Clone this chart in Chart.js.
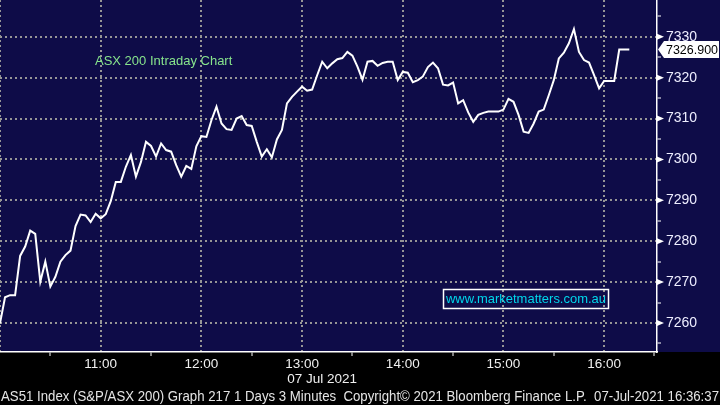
<!DOCTYPE html>
<html>
<head>
<meta charset="utf-8">
<script src="https://cdn.jsdelivr.net/npm/chart.js@4/dist/chart.umd.min.js"></script>
<style>
  html, body { margin: 0; padding: 0; background: #000; }
  #wrap { width: 720px; height: 405px; }
</style>
</head>
<body>
<div id="wrap"><canvas id="asxChart" width="720" height="405"></canvas></div>
<script>
// minutes after 10:00, 3 minute bars
const minutes = [
  0, 3, 6, 9, 12, 15, 18, 21, 24, 27, 30, 33, 36, 39, 42, 45, 48, 51, 54, 57,
  60, 63, 66, 69, 72, 75, 78, 81, 84, 87, 90, 93, 96, 99, 102, 105, 108, 111, 114, 117,
  120, 123, 126, 129, 132, 135, 138, 141, 144, 147, 150, 153, 156, 159, 162, 165, 168, 171, 174, 177,
  180, 183, 186, 189, 192, 195, 198, 201, 204, 207, 210, 213, 216, 219, 222, 225, 228, 231, 234, 237,
  240, 243, 246, 249, 252, 255, 258, 261, 264, 267, 270, 273, 276, 279, 282, 285, 288, 291, 294, 297,
  300, 303, 306, 309, 312, 315, 318, 321, 324, 327, 330, 333, 336, 339, 342, 345, 348, 351, 354, 357,
  360, 363, 366, 369, 372, 375
];
// AS51 index level
const closes = [
  7259.9, 7266.3, 7266.8, 7266.8, 7276.4, 7278.7, 7282.6, 7281.8, 7270.1, 7275.0,
  7268.9, 7271.3, 7275.0, 7276.6, 7277.7, 7283.7, 7286.5, 7286.3, 7284.7, 7286.7,
  7285.6, 7286.6, 7289.8, 7294.5, 7294.5, 7298.2, 7301.1, 7295.8, 7299.4, 7304.3,
  7303.3, 7300.7, 7303.9, 7302.3, 7301.9, 7298.6, 7295.8, 7298.4, 7297.7, 7303.2,
  7305.7, 7305.5, 7309.6, 7312.9, 7308.8, 7307.4, 7307.2, 7310.0, 7310.6, 7308.4,
  7308.2, 7304.3, 7300.7, 7302.5, 7300.5, 7304.9, 7307.2, 7313.7, 7315.3, 7316.6,
  7317.8, 7316.8, 7317.1, 7320.6, 7323.9, 7322.3, 7323.5, 7324.5, 7324.8, 7326.3,
  7325.4, 7322.7, 7319.5, 7323.9, 7324.1, 7322.9, 7323.6, 7323.9, 7323.9, 7319.4,
  7321.4, 7321.2, 7318.9, 7319.4, 7320.3, 7322.6, 7323.7, 7322.3, 7318.3, 7318.1,
  7318.8, 7313.7, 7314.5, 7311.5, 7309.2, 7310.9, 7311.4, 7311.7, 7311.7, 7311.7,
  7312.2, 7314.8, 7314.1, 7310.9, 7306.8, 7306.5, 7308.8, 7311.7, 7312.2, 7315.7,
  7319.4, 7324.7, 7326.1, 7328.4, 7331.9, 7326.3, 7324.3, 7323.7, 7320.6, 7317.4,
  7319.2, 7319.2, 7319.2, 7326.9, 7326.9, 7326.9
];
const hourTicks = [60, 120, 180, 240, 300, 360];
const hourLabels = ['11:00', '12:00', '13:00', '14:00', '15:00', '16:00'];
const lastPrice = 7326.9;
const chartTitle = 'ASX 200 Intraday Chart';
const dateLabel = '07 Jul 2021';
const siteLabel = 'www.marketmatters.com.au';
const footerText = 'AS51 Index (S&P/ASX 200) Graph 217 1 Days 3 Minutes  Copyright\u00A9 2021 Bloomberg Finance L.P.  07-Jul-2021 16:36:37';

const NAVY = 'rgb(14,12,72)';
const GRID = 'rgb(150,150,150)';
const FONT = '"Liberation Sans", Arial, sans-serif';

const decor = {
  id: 'decor',
  beforeDraw(chart) {
    const { ctx, chartArea } = chart;
    ctx.save();
    ctx.fillStyle = '#000';
    ctx.fillRect(0, 0, chart.width, chart.height);
    ctx.fillStyle = NAVY;
    ctx.fillRect(0, 0, chart.width, chartArea.bottom);
    ctx.restore();
  },
  afterDraw(chart) {
    const { ctx, chartArea, scales } = chart;
    const y = scales.y;
    ctx.save();
    // pointer ticks on the price axis
    ctx.fillStyle = '#fff';
    y.ticks.forEach(t => {
      if (t.value % 10 !== 0) return;
      const py = y.getPixelForValue(t.value);
      ctx.beginPath();
      ctx.moveTo(chartArea.right, py - 3);
      ctx.lineTo(chartArea.right + 7, py);
      ctx.lineTo(chartArea.right, py + 3);
      ctx.closePath();
      ctx.fill();
    });

    // last price tag
    const ly = y.getPixelForValue(lastPrice);
    const lx = chartArea.right + 1;
    ctx.beginPath();
    ctx.moveTo(lx, ly);
    ctx.lineTo(lx + 6, ly - 8.5);
    ctx.lineTo(719, ly - 8.5);
    ctx.lineTo(719, ly + 8.5);
    ctx.lineTo(lx + 6, ly + 8.5);
    ctx.closePath();
    ctx.fillStyle = '#fff';
    ctx.fill();
    ctx.fillStyle = '#000';
    ctx.font = '13.5px ' + FONT;
    ctx.textBaseline = 'middle';
    ctx.textAlign = 'left';
    ctx.fillText(lastPrice.toFixed(3), lx + 8, ly + 0.5, 52);

    // title
    ctx.fillStyle = 'rgb(135,228,140)';
    ctx.font = '13px ' + FONT;
    ctx.fillText(chartTitle, 95, 61.5);

    // site box
    ctx.strokeStyle = '#fff';
    ctx.lineWidth = 1.5;
    ctx.strokeRect(443.5, 289.5, 165, 19);
    ctx.fillStyle = 'rgb(0,215,235)';
    ctx.font = '13.5px ' + FONT;
    ctx.fillText(siteLabel, 446, 299.5, 160);

    // date under the time axis
    ctx.fillStyle = '#f0f0f0';
    ctx.textAlign = 'center';
    ctx.font = '13.5px ' + FONT;
    ctx.fillText(dateLabel, scales.x.getPixelForValue(180) + 20, 379.5, 72);

    // footer
    ctx.textAlign = 'left';
    ctx.fillStyle = '#e4e4e4';
    ctx.font = '14px ' + FONT;
    ctx.fillText(footerText, 1, 397, 718);
    ctx.restore();
  }
};

function keepInside(scale) {
  scale.ticks = scale.ticks.filter(t => t.value >= scale.min && t.value <= scale.max);
}

new Chart(document.getElementById('asxChart'), {
  type: 'line',
  data: {
    datasets: [{
      data: minutes.map((m, i) => ({ x: m, y: closes[i] })),
      borderColor: '#fff',
      borderWidth: 2,
      pointRadius: 0,
      tension: 0,
      fill: false
    }]
  },
  options: {
    responsive: false,
    devicePixelRatio: 1,
    animation: false,
    layout: { padding: 0 },
    plugins: {
      legend: { display: false },
      tooltip: { enabled: false }
    },
    scales: {
      x: {
        type: 'linear',
        min: 0,
        max: 391.5,
        afterBuildTicks: keepInside,
        ticks: {
          stepSize: 30,
          includeBounds: false,
          autoSkip: false,
          maxRotation: 0,
          padding: 0,
          color: '#f0f0f0',
          font: { family: FONT, size: 13.5 },
          callback: v => {
            const i = hourTicks.indexOf(v);
            return i >= 0 ? hourLabels[i] : '';
          }
        },
        grid: {
          lineWidth: 2,
          color: c => (c.tick && c.tick.value % 60 === 0) ? GRID : 'rgba(0,0,0,0)',
          tickColor: c => (c.tick && c.tick.value % 60 === 30) ? '#fff' : 'rgba(0,0,0,0)',
          tickWidth: 1,
          tickLength: 4,
          tickBorderDash: []
        },
        border: { color: '#fff', width: 1.5, dash: [2, 3] },
        afterFit: s => {
          s.height = 53;
          s.paddingLeft = 0; s.paddingRight = 0;
        }
      },
      y: {
        position: 'right',
        min: 7252.9,
        max: 7339.0,
        afterBuildTicks: keepInside,
        ticks: {
          stepSize: 5,
          includeBounds: false,
          padding: 5,
          color: '#eeeeff',
          font: { family: FONT, size: 14 },
          callback: v => (v % 10 === 0 ? String(v) : '')
        },
        grid: {
          lineWidth: 2,
          color: c => (c.tick && c.tick.value % 10 === 0) ? GRID : 'rgba(0,0,0,0)',
          tickColor: c => (c.tick && c.tick.value % 10 !== 0) ? '#fff' : 'rgba(0,0,0,0)',
          tickWidth: 1,
          tickLength: 4,
          tickBorderDash: []
        },
        border: { color: '#fff', width: 1.5, dash: [2, 3] },
        afterFit: s => {
          s.width = 63;
          s.paddingTop = 0; s.paddingBottom = 0;
        }
      }
    }
  },
  plugins: [decor]
});
</script>
</body>
</html>
